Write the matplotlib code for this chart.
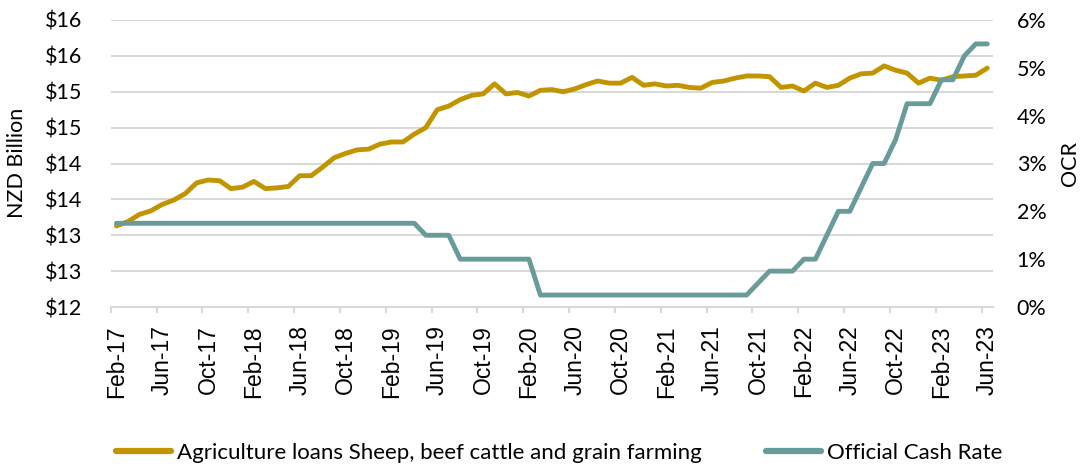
import math
import matplotlib
matplotlib.use("Agg")
import matplotlib.pyplot as plt
from matplotlib.ticker import FuncFormatter, FixedLocator
from matplotlib.lines import Line2D

# Monthly series, Feb-2017 .. Jun-2023
months = (["Feb-17", "Mar-17", "Apr-17", "May-17", "Jun-17", "Jul-17", "Aug-17", "Sep-17",
           "Oct-17", "Nov-17", "Dec-17"]
          + [f"{m}-{y}" for y in ("18", "19", "20", "21", "22")
             for m in ("Jan", "Feb", "Mar", "Apr", "May", "Jun", "Jul", "Aug",
                       "Sep", "Oct", "Nov", "Dec")]
          + ["Jan-23", "Feb-23", "Mar-23", "Apr-23", "May-23", "Jun-23"])

# Agriculture lending (sheep, beef cattle and grain farming), NZD billion
ag_loans = [
    13.13, 13.19, 13.29, 13.34, 13.43, 13.49, 13.58, 13.73, 13.77, 13.76,
    13.65, 13.67, 13.75, 13.65, 13.66, 13.68, 13.83, 13.83, 13.95, 14.08,
    14.14, 14.19, 14.20, 14.27, 14.30, 14.30, 14.41, 14.50, 14.75, 14.80,
    14.89, 14.95, 14.97, 15.11, 14.97, 14.99, 14.94, 15.02, 15.03, 15.00,
    15.04, 15.10, 15.15, 15.12, 15.12, 15.20, 15.09, 15.11, 15.08, 15.09,
    15.06, 15.05, 15.13, 15.15, 15.19, 15.22, 15.22, 15.21, 15.06, 15.08,
    15.01, 15.12, 15.06, 15.09, 15.19, 15.25, 15.26, 15.36, 15.30, 15.26,
    15.12, 15.19, 15.16, 15.21, 15.22, 15.23, 15.33,
]

# Official Cash Rate, percent
ocr = (
    [1.75] * 27 + [1.5] * 3 + [1.0] * 7 + [0.25] * 19
    + [0.5, 0.75, 0.75, 0.75, 1.0, 1.0, 1.5, 2.0, 2.0, 2.5, 3.0, 3.0, 3.5,
       4.25, 4.25, 4.25, 4.75, 4.75, 5.25, 5.5, 5.5]
)

left_ticks = [12, 12.5, 13, 13.5, 14, 14.5, 15, 15.5, 16]
right_ticks = [0, 1, 2, 3, 4, 5, 6]

GOLD = "#C29500"
TEAL = "#6A9B9B"
GRID = "#D9D9D9"
TEXT = "#000000"
FONT = ["Lato", "DejaVu Sans"]

plt.rcParams["font.family"] = FONT

W, H = 1081, 468
fig = plt.figure(figsize=(W / 100, H / 100), dpi=100)
x0, x1, y0, y1 = 110.7, 993.0, 20.0, 307.0
ax = fig.add_axes([x0 / W, 1 - y1 / H, (x1 - x0) / W, (y1 - y0) / H])
ax2 = ax.twinx()

idx = list(range(len(months)))
ax.plot(idx, ag_loans, color=GOLD, lw=3.5, solid_capstyle="round",
        solid_joinstyle="round", zorder=3)
ax2.plot(idx, ocr, color=TEAL, lw=3.5, solid_capstyle="round",
         solid_joinstyle="round", zorder=3)

ax.set_xlim(-0.5, len(months) - 0.5)
ax.set_ylim(12, 16)
ax2.set_ylim(0, 6)

# left axis: whole-dollar labels, rounded half up
ax.yaxis.set_major_locator(FixedLocator(left_ticks))
ax.yaxis.set_major_formatter(FuncFormatter(lambda v, p: f"${int(math.floor(v + 0.5))}"))
ax.grid(axis="y", color=GRID, lw=1.5)
ax.set_axisbelow(True)
ax.tick_params(axis="y", length=0, pad=20.5, labelsize=15.5, labelcolor=TEXT)

ax2.yaxis.set_major_locator(FixedLocator(right_ticks))
ax2.yaxis.set_major_formatter(FuncFormatter(lambda v, p: f"{v:.0f}%"))
ax2.tick_params(axis="y", length=0, pad=17, labelsize=15.5, labelcolor=TEXT)

# x axis: labels every four months, tick marks between categories
label_pos = idx[::4]
ax.set_xticks(label_pos)
ax.set_xticklabels([months[i] for i in label_pos], rotation=90,
                   fontfamily=["Liberation Sans", "DejaVu Sans"], fontsize=16.5)
ax.set_xticks([p - 0.5 for p in label_pos], minor=True)
ax.tick_params(axis="x", which="major", length=0, pad=13)
ax.tick_params(axis="x", which="minor", length=4, width=1.5, color=GRID)

for a in (ax, ax2):
    for side in ("top", "left", "right"):
        a.spines[side].set_visible(False)
    a.spines["bottom"].set_color(GRID)
    a.spines["bottom"].set_linewidth(1.5)
ax2.spines["bottom"].set_visible(False)

fig.text(17 / W, 1 - 163 / H, "NZD Billion", rotation=90, ha="center",
         va="center", fontsize=15.5, color=TEXT)
fig.text(1070 / W, 1 - 164 / H, "OCR", rotation=90, ha="center",
         va="center", fontsize=15.5, color=TEXT)

handles = [Line2D([], [], color=GOLD, lw=4.5, solid_capstyle="round"),
           Line2D([], [], color=TEAL, lw=4.5, solid_capstyle="round")]
fig.legend(handles,
           ["Agriculture loans Sheep, beef cattle and grain farming",
            "Official Cash Rate"],
           loc="center", bbox_to_anchor=(559 / W, 1 - 453 / H), ncol=2,
           frameon=False, fontsize=16, handlelength=2.5,
           handletextpad=0.25, columnspacing=2.9)

fig.savefig("out.png", dpi=100)
